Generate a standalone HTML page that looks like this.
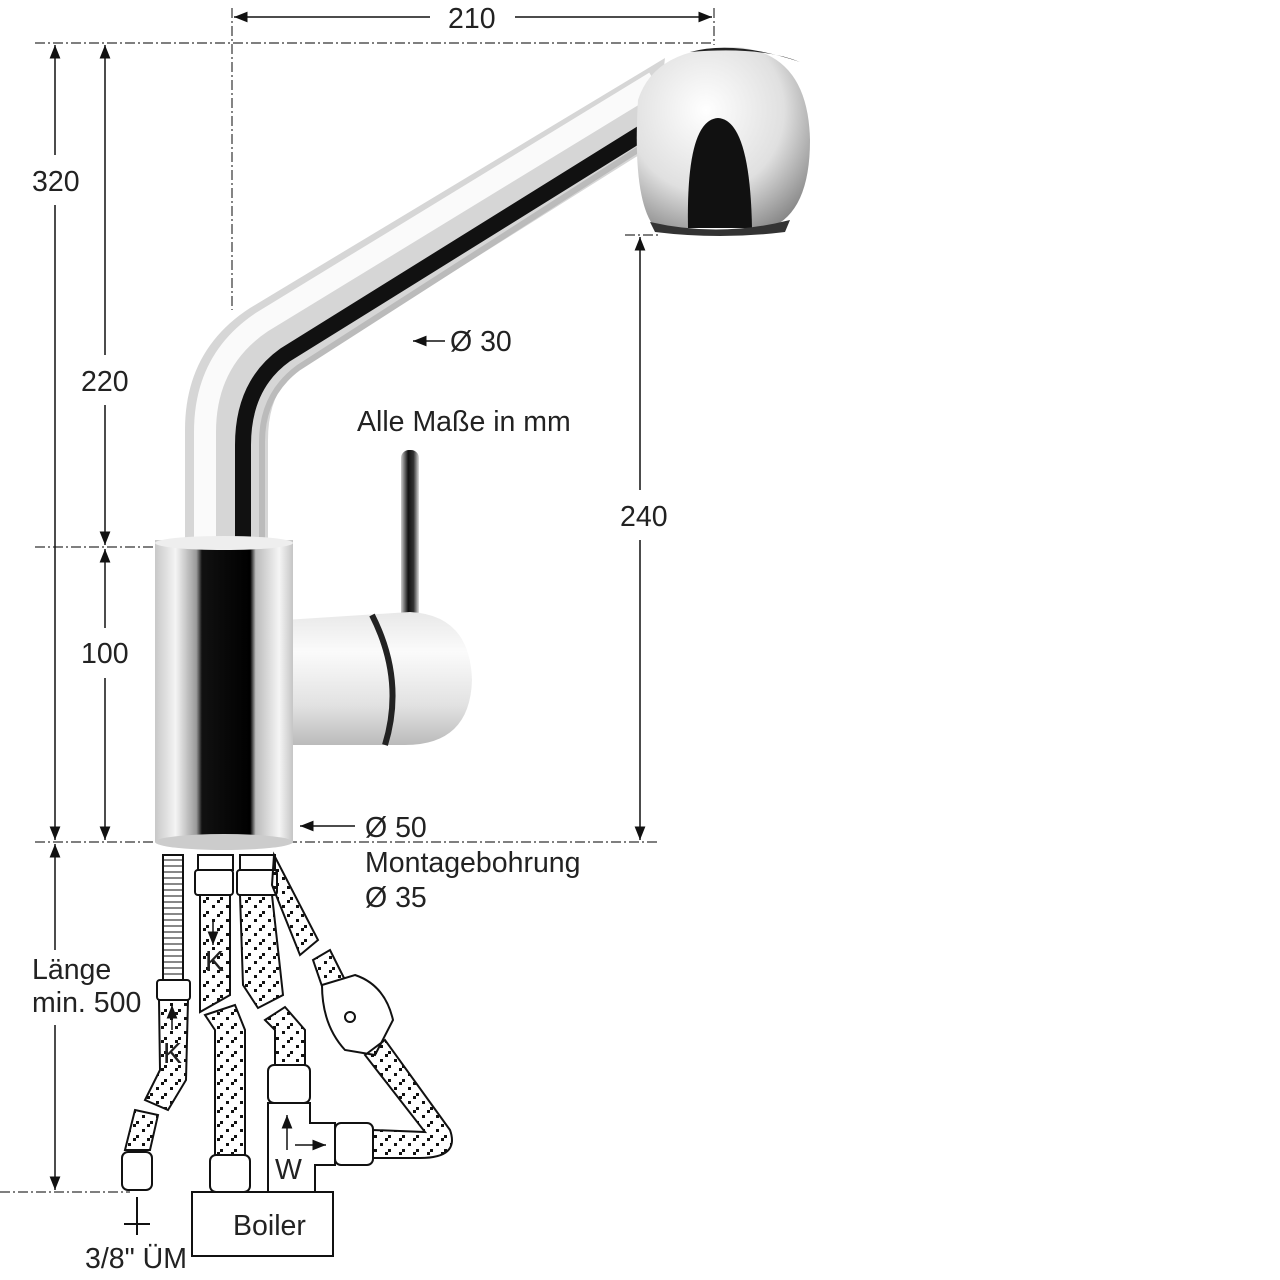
<!DOCTYPE html>
<html><head><meta charset="utf-8"><style>
html,body{margin:0;padding:0;background:#fff;}
svg{display:block}
text{font-family:"Liberation Sans",Arial,sans-serif;fill:#222;font-size:28.5px}
</style></head><body>
<svg width="1280" height="1280" viewBox="0 0 1280 1280" xmlns="http://www.w3.org/2000/svg">
<defs>
<marker id="a" viewBox="0 0 10 10" refX="10" refY="5" markerWidth="9" markerHeight="9" orient="auto-start-reverse"><path d="M0,1 L10,5 L0,9 z" fill="#111"/></marker>
<linearGradient id="body" x1="0" x2="1" y1="0" y2="0">
<stop offset="0" stop-color="#c8c8c8"/><stop offset="0.15" stop-color="#f4f4f4"/><stop offset="0.3" stop-color="#9a9a9a"/><stop offset="0.34" stop-color="#111"/><stop offset="0.69" stop-color="#000"/><stop offset="0.73" stop-color="#bbb"/><stop offset="0.9" stop-color="#f5f5f5"/><stop offset="1" stop-color="#c5c5c5"/></linearGradient>
<radialGradient id="head" cx="0.4" cy="0.35" r="0.75"><stop offset="0" stop-color="#fff"/><stop offset="0.6" stop-color="#e0e0e0"/><stop offset="1" stop-color="#888"/></radialGradient>
<linearGradient id="hand" x1="0" y1="0" x2="0" y2="1"><stop offset="0" stop-color="#e8e8e8"/><stop offset="0.3" stop-color="#fbfbfb"/><stop offset="0.7" stop-color="#e2e2e2"/><stop offset="1" stop-color="#bbb"/></linearGradient>
<linearGradient id="lev" x1="0" x2="1"><stop offset="0" stop-color="#ccc"/><stop offset="0.4" stop-color="#111"/><stop offset="0.7" stop-color="#333"/><stop offset="1" stop-color="#ddd"/></linearGradient>
<pattern id="br" width="14" height="14" patternUnits="userSpaceOnUse"><rect x="2" y="9" width="3" height="3" fill="#111"/><rect x="7" y="4" width="3" height="3" fill="#111"/><rect x="10" y="1" width="3" height="3" fill="#111"/></pattern>
</defs>

<g stroke="#333" stroke-width="1.2" stroke-dasharray="10,3,2,3" fill="none">
<line x1="35" y1="43" x2="714" y2="43"/>
<line x1="232" y1="8" x2="232" y2="310"/>
<line x1="714" y1="8" x2="714" y2="45"/>
<line x1="35" y1="547" x2="155" y2="547"/>
<line x1="35" y1="842" x2="658" y2="842"/>
<line x1="625" y1="235" x2="660" y2="235"/>
<line x1="0" y1="1192" x2="130" y2="1192"/>
</g>
<g stroke="#111" stroke-width="1.5" fill="none">
<line x1="234" y1="17" x2="430" y2="17" marker-start="url(#a)"/>
<line x1="515" y1="17" x2="712" y2="17" marker-end="url(#a)"/>
<line x1="55" y1="45" x2="55" y2="155" marker-start="url(#a)"/>
<line x1="55" y1="205" x2="55" y2="840" marker-end="url(#a)"/>
<line x1="105" y1="45" x2="105" y2="355" marker-start="url(#a)"/>
<line x1="105" y1="405" x2="105" y2="545" marker-end="url(#a)"/>
<line x1="105" y1="549" x2="105" y2="628" marker-start="url(#a)"/>
<line x1="105" y1="678" x2="105" y2="840" marker-end="url(#a)"/>
<line x1="640" y1="237" x2="640" y2="490" marker-start="url(#a)"/>
<line x1="640" y1="540" x2="640" y2="840" marker-end="url(#a)"/>
<line x1="55" y1="844" x2="55" y2="950" marker-start="url(#a)"/>
<line x1="55" y1="1025" x2="55" y2="1190" marker-end="url(#a)"/>
<line x1="445" y1="341" x2="413" y2="341" marker-end="url(#a)"/>
<line x1="355" y1="826" x2="300" y2="826" marker-end="url(#a)"/>
</g>
<text x="448" y="28">210</text>
<text x="32" y="191">320</text>
<text x="81" y="391">220</text>
<text x="81" y="663">100</text>
<text x="620" y="526">240</text>
<text x="32" y="979">Länge</text>
<text x="32" y="1012">min. 500</text>
<text x="450" y="351">Ø 30</text>
<text x="357" y="431">Alle Maße in mm</text>
<text x="365" y="837">Ø 50</text>
<text x="365" y="872">Montagebohrung</text>
<text x="365" y="907">Ø 35</text>
<text x="85" y="1268">3/8" ÜM</text>

<path d="M185,545 L185,430 Q185,350 250,308 L665,58 L655,145 L300,368 Q268,390 268,440 L268,545 Z" fill="#d6d6d6"/>
<path d="M205,545 L205,432 Q205,360 262,322 L655,82" fill="none" stroke="#fafafa" stroke-width="22"/>
<path d="M243,545 L243,445 Q243,385 285,355 L650,128" fill="none" stroke="#111" stroke-width="16"/>
<path d="M262,545 L262,442 Q262,395 298,368 L650,142" fill="none" stroke="#bbb" stroke-width="6"/>
<path d="M638,100 Q655,47 735,47 Q808,52 810,140 Q810,212 770,228 L655,228 Q632,200 638,100 Z" fill="url(#head)"/>
<path d="M690,52 Q735,40 800,62 Q760,46 690,52 Z" fill="#222"/>
<path d="M688,228 Q686,120 718,118 Q750,120 752,228 Z" fill="#111"/>
<path d="M650,222 Q720,238 790,220 L785,232 Q720,240 655,232 Z" fill="#333"/>
<rect x="401" y="450" width="18" height="170" rx="8" fill="url(#lev)"/>
<path d="M285,620 L410,612 Q470,615 472,680 Q470,745 405,745 L285,745 Z" fill="url(#hand)"/>
<path d="M372,615 Q405,680 385,745" fill="none" stroke="#222" stroke-width="6"/>
<rect x="155" y="540" width="138" height="302" fill="url(#body)"/>
<ellipse cx="224" cy="543" rx="69" ry="7" fill="#eee"/>
<ellipse cx="224" cy="842" rx="69" ry="8" fill="#ccc"/>

<g stroke="#111" stroke-width="2">
<rect x="163" y="855" width="20" height="125" fill="#fff"/>
<g stroke-width="1">
<path d="M164,860 H182 M164,866 H182 M164,872 H182 M164,878 H182 M164,884 H182 M164,890 H182 M164,896 H182 M164,902 H182 M164,908 H182 M164,914 H182 M164,920 H182 M164,926 H182 M164,932 H182 M164,938 H182 M164,944 H182 M164,950 H182 M164,956 H182 M164,962 H182 M164,968 H182 M164,974 H182"/>
</g>
<rect x="157" y="980" width="33" height="20" rx="3" fill="#fff"/>
<path d="M159,1000 L188,1000 L186,1080 L168,1110 L145,1100 L160,1070 Z" fill="url(#br)"/>
<path d="M135,1110 L158,1115 L150,1150 L125,1150 Z" fill="url(#br)"/>
<rect x="122" y="1152" width="30" height="38" rx="6" fill="#fff"/>
<rect x="198" y="855" width="35" height="15" fill="#fff"/>
<rect x="240" y="855" width="35" height="15" fill="#fff"/>
<rect x="195" y="870" width="38" height="25" rx="3" fill="#fff"/>
<rect x="237" y="870" width="40" height="25" rx="3" fill="#fff"/>
<path d="M200,895 L230,895 L230,995 L200,1012 Z" fill="url(#br)"/>
<path d="M240,895 L272,895 L283,995 L258,1008 L243,985 Z" fill="url(#br)"/>
<path d="M205,1015 L235,1005 L245,1030 L245,1155 L215,1155 L215,1030 Z" fill="url(#br)"/>
<rect x="210" y="1155" width="40" height="37" rx="6" fill="#fff"/>
<path d="M265,1020 L285,1007 L305,1030 L305,1065 L275,1065 L275,1030 Z" fill="url(#br)"/>
<rect x="268" y="1065" width="42" height="38" rx="6" fill="#fff"/>
<path d="M274,855 L318,940 L300,955 L272,885 Z" fill="url(#br)"/>
<path d="M313,960 L330,950 L345,980 L325,995 Z" fill="url(#br)"/>
<path d="M322,985 L355,975 Q385,985 393,1020 L375,1055 L345,1050 Q322,1025 322,985 Z" fill="#fff"/>
<circle cx="350" cy="1017" r="5" fill="#fff"/>
<path d="M365,1055 L385,1040 L450,1130 Q460,1158 420,1158 L373,1158 L373,1130 L425,1132 Z" fill="url(#br)"/>
<path d="M268,1103 L310,1103 L310,1123 L335,1123 L335,1165 L315,1165 L315,1192 L268,1192 Z" fill="#fff"/>
<rect x="335" y="1123" width="38" height="42" rx="6" fill="#fff"/>
<rect x="192" y="1192" width="141" height="64" fill="#fff"/>
<line x1="137" y1="1197" x2="137" y2="1235"/>
<line x1="124" y1="1224" x2="150" y2="1224"/>
</g>
<g stroke="#111" stroke-width="1.5" fill="none">
<line x1="213" y1="920" x2="213" y2="945" marker-end="url(#a)"/>
<line x1="172" y1="1030" x2="172" y2="1005" marker-end="url(#a)"/>
<line x1="287" y1="1150" x2="287" y2="1115" marker-end="url(#a)"/>
<line x1="295" y1="1145" x2="326" y2="1145" marker-end="url(#a)"/>
</g>
<text x="205" y="971">K</text>
<text x="163" y="1063">K</text>
<text x="275" y="1179">W</text>
<text x="233" y="1235">Boiler</text>
</svg>
</body></html>
